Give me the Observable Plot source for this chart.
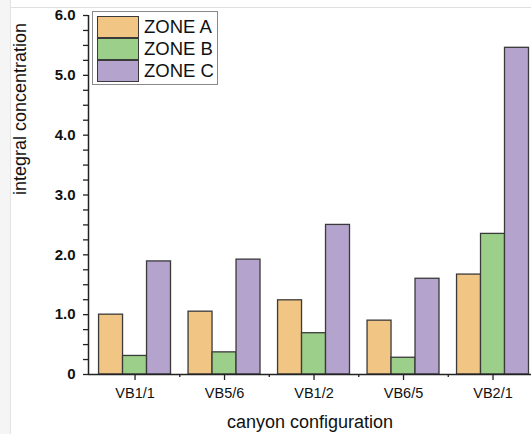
<!DOCTYPE html>
<html>
<head>
<meta charset="utf-8">
<script src="https://cdn.jsdelivr.net/npm/d3@7"></script>
<script src="https://cdn.jsdelivr.net/npm/@observablehq/plot@0.6"></script>
<style>
  html, body { margin: 0; padding: 0; background: #ffffff; }
  #wrap { position: relative; width: 531px; height: 434px; overflow: hidden; font-family: "Liberation Sans", Arial, sans-serif; }
  #strip { position: absolute; left: 0; top: 0; width: 10px; height: 434px; background: #f5f5f5; border-right: 1px solid #e3e3e3; }
  #topline { position: absolute; left: 11px; top: 7px; width: 520px; height: 1px; background: #e0e0e0; }
  #chart { position: absolute; left: 0; top: 0; }
  #legend { position: absolute; left: 92px; top: 11px; width: 124px; height: 72px; border: 1px solid #8a8a8a; background: #fff; padding: 0; box-sizing: content-box; }
  .row { position: absolute; left: 4px; height: 22px; display: flex; align-items: center; }
  .sw { width: 40px; height: 20px; border: 1px solid #3a3a3a; box-sizing: content-box; }
  .lab { margin-left: 5px; font-size: 18.5px; color: #111; line-height: 22px; }
</style>
</head>
<body>
<div id="wrap">
  <div id="strip"></div>
  <div id="topline"></div>
  <div id="chart"></div>
  <div id="legend"></div>
</div>
<script>
const categories = ["VB1/1", "VB5/6", "VB1/2", "VB6/5", "VB2/1"];
const zones = ["ZONE A", "ZONE B", "ZONE C"];
const zoneA = [1.00, 1.05, 1.24, 0.90, 1.67];
const zoneB = [0.31, 0.37, 0.69, 0.28, 2.35];
const zoneC = [1.89, 1.92, 2.50, 1.60, 5.46];
const zoneColors = ["#f1c583", "#9cd08a", "#b3a3cd"];
const yMajorTicks = [0, 1, 2, 3, 4, 5, 6];
const yTickLabels = ["0", "1.0", "2.0", "3.0", "4.0", "5.0", "6.0"];

const series = [zoneA, zoneB, zoneC];
const data = categories.flatMap((c, i) => zones.map((z, j) => ({category: c, i, zone: z, j, value: series[j][i]})));

const barW = 0.268;
const xMin = -0.52, xMax = 4.43;
const yMinorTicks = d3.range(0, 6.001, 0.25);
const xMinorTicks = categories.slice(1).map((_, i) => i + 0.5);

const chart = Plot.plot({
  width: 531,
  height: 434,
  marginLeft: 88,
  marginRight: 0,
  marginTop: 15,
  marginBottom: 60,
  style: {fontFamily: "Liberation Sans, Arial, sans-serif", background: "transparent", color: "#111"},
  x: {type: "linear", domain: [xMin, xMax], axis: null},
  y: {domain: [0, 6], axis: null},
  color: {domain: zones, range: zoneColors},
  marks: [
    Plot.rectY(data, {
      x1: d => d.i + (d.j - 1.5) * barW,
      x2: d => d.i + (d.j - 0.5) * barW,
      y: "value",
      fill: "zone",
      stroke: "#3a3a3a",
      strokeWidth: 1.3
    }),
    Plot.axisY({
      ticks: yMinorTicks,
      tickSize: 5,
      tickPadding: 8,
      tickFormat: d => { const k = yMajorTicks.indexOf(d); return k >= 0 ? yTickLabels[k] : ""; },
      fontSize: 15,
      fontWeight: "bold",
      stroke: "#222",
      strokeWidth: 1.3,
      label: null
    }),
    Plot.axisX({
      ticks: categories.map((_, i) => i),
      tickSize: 6,
      tickPadding: 7,
      tickFormat: i => categories[i],
      fontSize: 14.5,
      stroke: "#222",
      strokeWidth: 1.3,
      label: null
    }),
    Plot.axisX({
      ticks: xMinorTicks,
      tickSize: 3,
      tickFormat: () => "",
      stroke: "#222",
      strokeWidth: 1.3,
      label: null
    }),
    Plot.ruleX([xMin], {y1: 0, y2: 6, stroke: "#222", strokeWidth: 1.5}),
    Plot.ruleY([0], {x1: xMin, x2: xMax, stroke: "#222", strokeWidth: 1.5}),
    Plot.text(["canyon configuration"], {frameAnchor: "bottom", dy: 48, fontSize: 18, lineAnchor: "middle", fill: "#111"}),
    Plot.text(["integral concentration"], {frameAnchor: "left", dx: -68, rotate: -90, fontSize: 18, lineAnchor: "middle", fill: "#111"})
  ]
});
document.getElementById("chart").appendChild(chart);

const legend = document.getElementById("legend");
zones.forEach((z, j) => {
  const row = document.createElement("div");
  row.className = "row";
  row.style.top = (4 + j * 22) + "px";
  const sw = document.createElement("div");
  sw.className = "sw";
  sw.style.background = zoneColors[j];
  const lab = document.createElement("span");
  lab.className = "lab";
  lab.textContent = z;
  row.appendChild(sw);
  row.appendChild(lab);
  legend.appendChild(row);
});
</script>
</body>
</html>
